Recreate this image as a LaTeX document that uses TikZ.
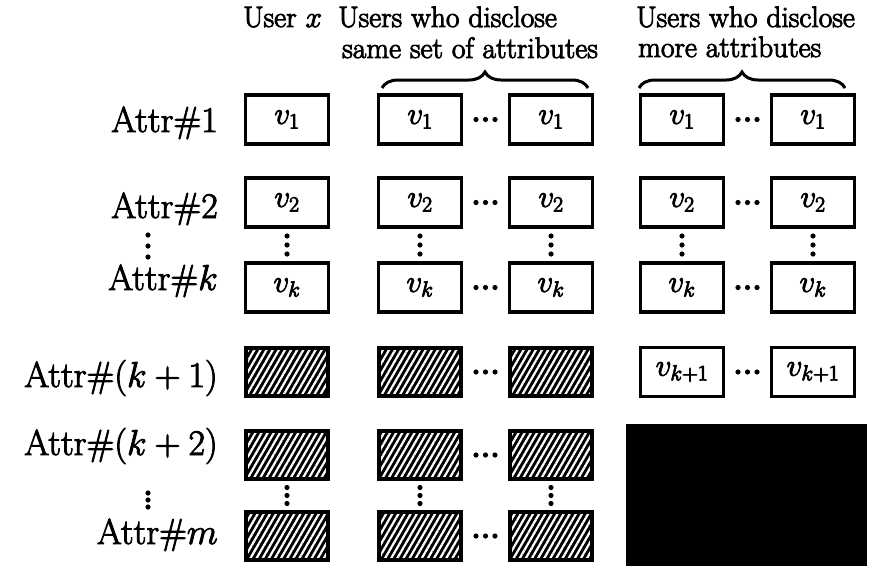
\RequirePackage{fix-cm}
\documentclass[tikz,border=0pt]{standalone}
\usetikzlibrary{patterns.meta,decorations.pathreplacing}

% outline the glyphs a little so the lettering carries the weight of the boxes
\newcommand\heavyink{\special{pdf:literal direct 2 Tr 0.9 w}}

\tikzset{
  cell/.style={draw, line width=3.5pt, minimum width=83pt, minimum height=49pt,
    inner sep=0pt, font=\fontsize{31}{32}\selectfont\heavyink},
  masked/.style={cell, line width=4.5pt, minimum width=82pt, minimum height=48pt,
    preaction={fill=black},
    pattern={Lines[angle=60,distance=5.3pt,line width=2.2pt]}, pattern color=white},
  attr/.style={anchor=base east, inner sep=0pt, font=\fontsize{36}{37}\selectfont\heavyink},
  head/.style={anchor=base west, inner sep=0pt, font=\fontsize{29.5}{31}\selectfont\heavyink},
  grp/.style={decorate, decoration={brace, amplitude=16pt}, line width=3pt},
  pics/hdots/.style={code={\foreach \d in {-9.5,0,9.5} \fill (\d,0) circle (2.6pt);}},
  pics/vdots/.style={code={\foreach \d in {-#1,0,#1} \fill (0,\d) circle (2.6pt);}},
}

\begin{document}
\begin{tikzpicture}[x=1pt,y=-1pt]
\useasboundingbox (0,0) rectangle (884,568);

% column headings
\node[head] (hx)  at (243,27) {User $x$};
\node[head] (hs1) at (338,27) {Users who disclose};
\node[head] (hs2) at (342,58) {same set of attributes};
\node[head] (hm1) at (636,27) {Users who disclose};
\node[head] (hm2) at (638,57) {more attributes};
\draw[grp] (382,88) -- (588,88);
\draw[grp] (639,88) -- (845,88);

% row labels
\node[attr] (l1)  at (218,132) {Attr\#1};
\node[attr] (l2)  at (218,218) {Attr\#2};
\node[attr] (lk)  at (218,290) {Attr\#$k$};
\node[attr] (lk1) at (218,387) {Attr\#$(k+1)$};
\node[attr] (lk2) at (218,455) {Attr\#$(k+2)$};
\node[attr] (lm)  at (218,544) {Attr\#$m$};
\coordinate (ldA) at (148,246);
\coordinate (ldB) at (148,500);
\pic at (ldA) {vdots=11};
\pic at (ldB) {vdots=7};

% disclosed values: user x, same-set users, more-attribute users
\foreach \r/\y/\t in {1/119.5/{$v_1$}, 2/202.5/{$v_2$}, k/287.5/{$v_k$}} {
  \node[cell] (a\r) at (287,\y) {\t};
  \node[cell] (b\r) at (420,\y) {\t};
  \node[cell] (c\r) at (551,\y) {\t};
  \node[cell] (d\r) at (682,\y) {\t};
  \node[cell] (e\r) at (813,\y) {\t};
}
\node[cell] (dp) at (682,372) {$v_{k+1}$};
\node[cell] (ep) at (813,372) {$v_{k+1}$};

% undisclosed values
\foreach \r/\y in {p/372, q/455, m/536} {
  \node[masked] (a\r) at (287,\y) {};
  \node[masked] (b\r) at (420,\y) {};
  \node[masked] (c\r) at (551,\y) {};
}

% unknown block of the richer users
\node[fill=black, minimum width=241pt, minimum height=142pt, inner sep=0pt]
  (rest) at (746.5,495) {};

% horizontal ellipses between users
\foreach \r in {1,2,k,p,q,m} {
  \path (b\r.east) -- (c\r.west) pic[pos=.5] {hdots};
}
\foreach \r in {1,2,k,p} {
  \path (d\r.east) -- (e\r.west) pic[pos=.5] {hdots};
}

% vertical ellipses between attributes
\foreach \c in {a,b,c,d,e} {
  \path (\c2.south) -- (\c k.north) pic[pos=.5] {vdots=9};
}
\foreach \c in {a,b,c} {
  \path (\c q.south) -- (\c m.north) pic[pos=.5] {vdots=8};
}
\end{tikzpicture}
\end{document}
